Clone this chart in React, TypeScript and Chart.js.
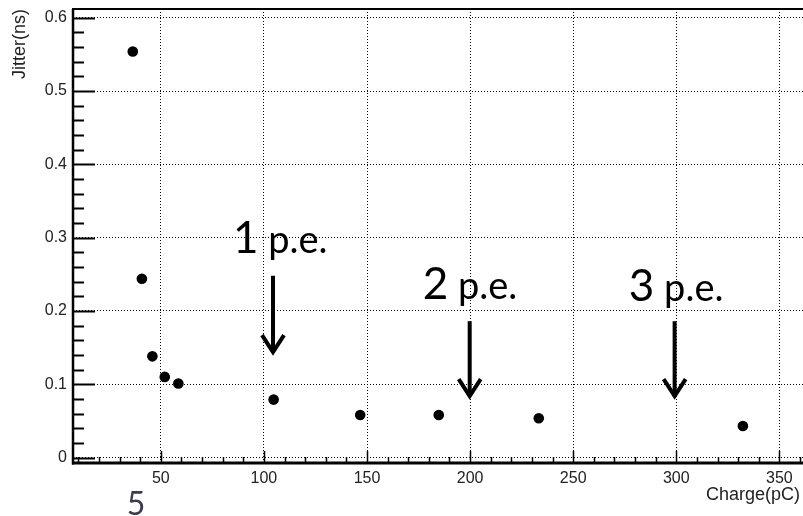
import { useEffect, useRef } from 'react';
import { Chart, registerables } from 'chart.js';

Chart.register(...registerables);

// ---- data ----
const chargePC = [36.4, 40.8, 45.9, 51.9, 58.5, 104.7, 146.7, 184.8, 233.3, 332.3];
const jitterNs = [0.554, 0.244, 0.138, 0.11, 0.101, 0.079, 0.058, 0.058, 0.0535, 0.043];

const xTickValues = [50, 100, 150, 200, 250, 300, 350];
const yTickValues = [0, 0.1, 0.2, 0.3, 0.4, 0.5, 0.6];
const yTickLabels = ['0', '0.1', '0.2', '0.3', '0.4', '0.5', '0.6'];

const xTitle = 'Charge(pC)';
const yTitle = 'Jitter(ns)';

// annotations (data coordinates)
const peDigits = ['1', '2', '3'];
const peSuffix = ' p.e.';
const peTextX = [85, 177, 277];
const peTextY = [0.279, 0.2165, 0.213];
const arrowX = [104.4, 199.8, 299.2];
const arrowTop = [0.248, 0.186, 0.186];
const arrowTip = [0.141, 0.081, 0.081];

const pageNumber = '5';

const X_MIN = 7.4;
const X_MAX = 361.8;
const Y_MIN = -0.0075;
const Y_MAX = 0.612;

const decorPlugin = {
  id: 'decor',
  afterDraw(chart: any) {
    const { ctx, chartArea } = chart;
    const xs = chart.scales.x;
    const ys = chart.scales.y;
    const { left, right, top, bottom } = chartArea;
    ctx.save();
    ctx.strokeStyle = '#000';
    ctx.lineCap = 'butt';

    // y ticks (inside)
    for (let i = 0; i * 0.02 <= Y_MAX + 1e-9; i++) {
      const v = i * 0.02;
      const major = i % 5 === 0;
      const py = Math.round(ys.getPixelForValue(v)) + 0.5;
      ctx.lineWidth = 2;
      ctx.beginPath();
      ctx.moveTo(left, py);
      ctx.lineTo(left + (major ? 22 : 11), py);
      ctx.stroke();
    }
    // x ticks (inside)
    for (let i = 1; i * 10 <= X_MAX; i++) {
      const v = i * 10;
      const major = i % 5 === 0;
      const px = Math.round(xs.getPixelForValue(v)) + 0.5;
      ctx.lineWidth = 1.5;
      ctx.beginPath();
      ctx.moveTo(px, bottom);
      ctx.lineTo(px, bottom - (major ? 12 : 6));
      ctx.stroke();
    }
    // frame
    ctx.lineWidth = 2.5;
    ctx.beginPath();
    ctx.moveTo(left, top);
    ctx.lineTo(left, bottom + 1.5);
    ctx.stroke();
    ctx.lineWidth = 3;
    ctx.beginPath();
    ctx.moveTo(left - 1, bottom);
    ctx.lineTo(right + 10, bottom);
    ctx.stroke();
    ctx.lineWidth = 2;
    ctx.beginPath();
    ctx.moveTo(left - 1, top);
    ctx.lineTo(right + 10, top);
    ctx.stroke();

    // arrows
    ctx.lineWidth = 4;
    ctx.lineJoin = 'miter';
    for (let i = 0; i < arrowX.length; i++) {
      const px = xs.getPixelForValue(arrowX[i]);
      const pt = ys.getPixelForValue(arrowTop[i]);
      const pb = ys.getPixelForValue(arrowTip[i]);
      ctx.beginPath();
      ctx.moveTo(px, pt);
      ctx.lineTo(px, pb - 2);
      ctx.stroke();
      ctx.beginPath();
      ctx.moveTo(px - 11, pb - 19);
      ctx.lineTo(px, pb - 2);
      ctx.lineTo(px + 11, pb - 19);
      ctx.stroke();
    }

    // annotation texts
    ctx.fillStyle = '#000';
    ctx.textBaseline = 'alphabetic';
    ctx.textAlign = 'left';
    for (let i = 0; i < peDigits.length; i++) {
      const px = xs.getPixelForValue(peTextX[i]);
      const py = ys.getPixelForValue(peTextY[i]);
      ctx.font = '44px Lato, "Open Sans", sans-serif';
      ctx.fillText(peDigits[i], px, py);
      const w = ctx.measureText(peDigits[i]).width;
      ctx.font = '38px Lato, "Open Sans", sans-serif';
      ctx.fillText(peSuffix, px + w, py);
    }

    // x-axis title (right-aligned under the tick labels)
    ctx.fillStyle = '#222';
    ctx.font = '18px "Liberation Sans", Arial, sans-serif';
    ctx.textAlign = 'right';
    ctx.textBaseline = 'middle';
    ctx.fillText(xTitle, 800, 495);

    // page number
    ctx.fillStyle = '#3c3c4e';
    ctx.font = '32px Lato, "Open Sans", sans-serif';
    ctx.textAlign = 'center';
    ctx.textBaseline = 'alphabetic';
    ctx.fillText(pageNumber, 136, 515);
    ctx.restore();
  },
};

export default function App() {
  const ref = useRef<HTMLCanvasElement | null>(null);
  useEffect(() => {
    if (!ref.current) return;
    const chart = new Chart(ref.current, {
      type: 'scatter',
      data: {
        datasets: [
          {
            data: chargePC.map((x, i) => ({ x, y: jitterNs[i] })),
            backgroundColor: '#000',
            borderColor: '#000',
            pointRadius: 5.3,
            pointBorderWidth: 0,
          },
        ],
      },
      options: {
        animation: false,
        responsive: false,
        devicePixelRatio: 1,
        layout: { padding: { top: 9, left: 0, right: 0, bottom: 0 } },
        plugins: { legend: { display: false }, tooltip: { enabled: false } },
        scales: {
          x: {
            type: 'linear',
            min: X_MIN,
            max: X_MAX,
            afterBuildTicks: (s: any) => {
              s.ticks = xTickValues.map((v) => ({ value: v }));
            },
            afterFit: (s: any) => {
              s.height = 53;
              s.paddingLeft = 0;
              s.paddingRight = 0;
            },
            grid: { color: '#000', lineWidth: 1, drawTicks: false },
            border: { display: false, dash: [1, 2] },
            ticks: {
              color: '#222',
              padding: 6,
              font: { family: '"Liberation Sans", Arial, sans-serif', size: 16 },
              maxRotation: 0,
              autoSkip: false,
            },
            title: { display: false, text: xTitle },
          },
          y: {
            type: 'linear',
            min: Y_MIN,
            max: Y_MAX,
            afterBuildTicks: (s: any) => {
              s.ticks = yTickValues.map((v) => ({ value: v }));
            },
            afterFit: (s: any) => {
              s.width = 73;
              s.paddingTop = 0;
              s.paddingBottom = 0;
            },
            grid: { color: '#000', lineWidth: 1, drawTicks: false },
            border: { display: false, dash: [1, 2] },
            ticks: {
              color: '#222',
              padding: 6,
              font: { family: '"Liberation Sans", Arial, sans-serif', size: 16 },
              autoSkip: false,
              callback: (_v: any, i: number) => yTickLabels[i],
            },
            title: {
              display: true,
              text: yTitle,
              align: 'end',
              color: '#222',
              padding: { top: 9, bottom: 0 },
              font: { family: '"Liberation Sans", Arial, sans-serif', size: 18 },
            },
          },
        },
      },
      plugins: [decorPlugin],
    });
    return () => chart.destroy();
  }, []);
  return (
    <div style={{ position: 'absolute', left: 0, top: 0, width: 803, height: 516, background: '#fff', overflow: 'hidden' }}>
      <canvas ref={ref} width={809} height={516} style={{ width: 809, height: 516, display: 'block' }} />
    </div>
  );
}
